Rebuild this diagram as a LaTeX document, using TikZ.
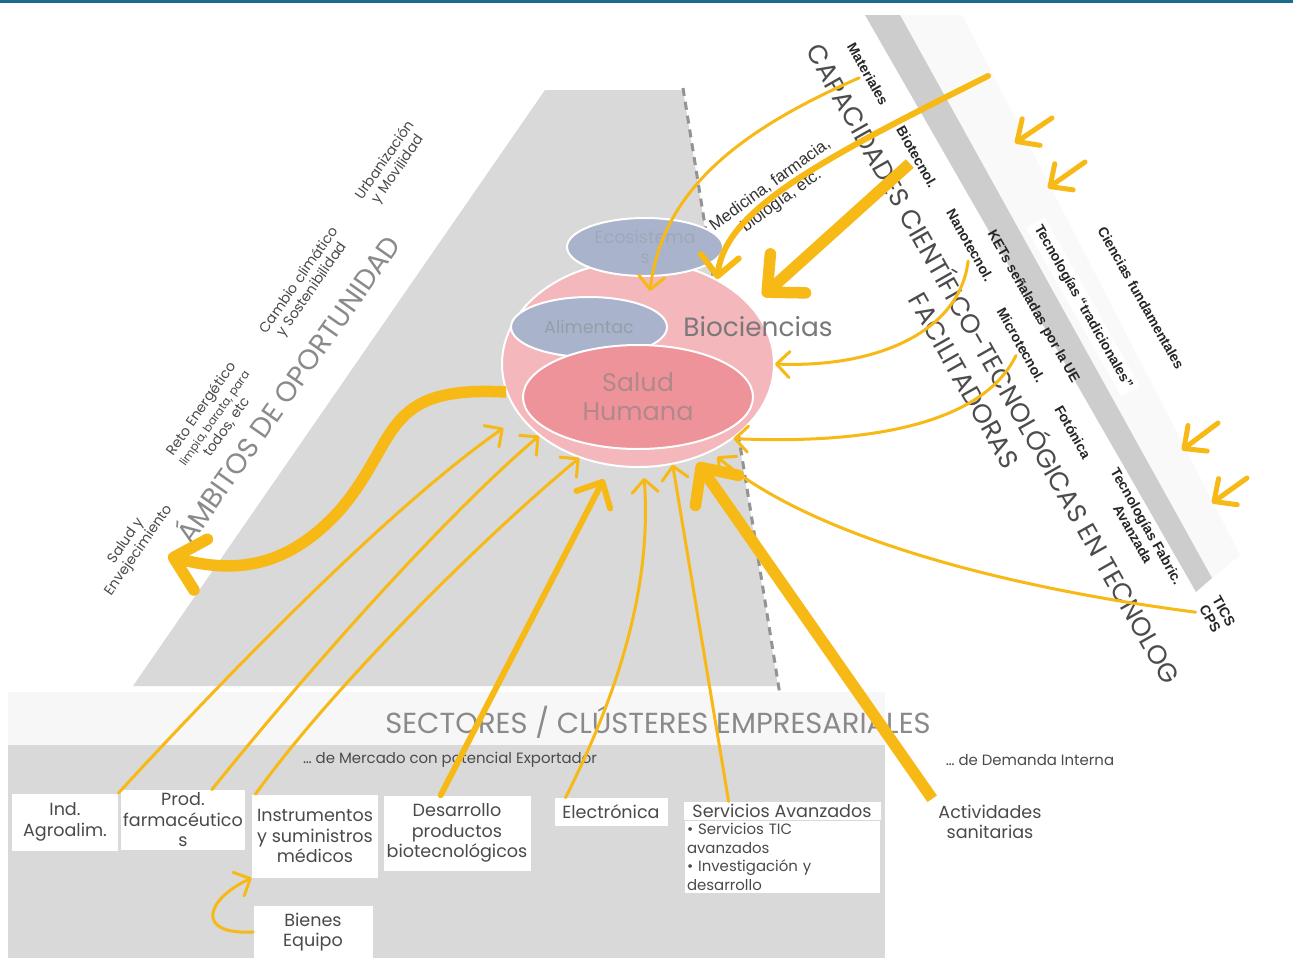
\documentclass[tikz,border=0pt]{standalone}
\usepackage{fontspec}
\setmainfont{Poppins}
\newfontfamily\ketfont{Liberation Sans}
\usetikzlibrary{arrows.meta,shapes.geometric,positioning,calc}
\definecolor{oro}{HTML}{F6B915}
\definecolor{rosa}{HTML}{F4B7BB}
\definecolor{salmon}{HTML}{EE9399}
\definecolor{lila}{HTML}{A9B4CC}
\definecolor{fondo}{HTML}{D9D9D9}
\definecolor{banda}{HTML}{CDCDCD}
\definecolor{raya}{HTML}{1B6A90}
\definecolor{texto}{HTML}{4A4A4A}
\definecolor{titulo}{HTML}{8A8A8A}
\begin{document}
\begin{tikzpicture}[x=0.2mm,y=-0.2mm,
    fino/.style={draw=oro,line width=0.6mm,line cap=round,-{Straight Barb[length=2.6mm,width=5.2mm,round]}},
    medio/.style={draw=oro,line width=1.2mm,line cap=round,-{Straight Barb[length=4mm,width=7.6mm,round]}},
    grueso/.style={draw=oro,line width=2.3mm,-{Straight Barb[length=5.6mm,width=10.5mm,round]}},
    suelta/.style={draw=oro,line width=1mm,line cap=round,-{Straight Barb[length=3.4mm,width=6.4mm,round]}},
    sector/.style={fill=white,inner sep=0.5mm,align=center,text=texto,font=\fontsize{10}{11.7}\selectfont},
    ambito/.style={rotate=55,align=center,text=texto,font=\fontsize{8}{9}\selectfont},
    ket/.style={rotate=-60.5,fill=white,align=center,inner sep=0.8mm,text=black!85,font=\ketfont\bfseries\fontsize{8}{9}\selectfont},
    mancha/.style={ellipse,draw=white,line width=0.4mm,inner sep=0pt}]
  \useasboundingbox (0,0) rectangle (1293,958);
  \fill[white] (0,0) rectangle (1293,958);
  \fill[raya] (0,0) rectangle (1293,3);
  \fill[fondo] (545,90) -- (683,90) -- (778,686) -- (133,686) -- cycle;
  \draw[gray!85,line width=0.6mm,dash pattern=on 1.6mm off 1.2mm] (683,88) -- (780,695);
  \fill[gray!5] (900,15) -- (962,15) -- (1240,555) -- (1212,578) -- cycle;
  \fill[banda] (865,15) -- (900,15) -- (1212,578) -- (1196,592) -- cycle;
  \fill[gray!6] (8,692) rectangle (885,745);
  \fill[fondo] (8,745) rectangle (885,958);

  \node[mancha,fill=rosa,minimum width=54.4mm,minimum height=41.2mm] (bio) at (638,364) {};
  \node[mancha,fill=lila,minimum width=31.2mm,minimum height=11.6mm,align=center,text=lila!75!gray,font=\fontsize{10}{11}\selectfont] (eco) at (645,247) {Ecosistema\\s};
  \node[mancha,fill=lila,minimum width=31.2mm,minimum height=12mm,text=lila!55!gray,font=\fontsize{10}{11}\selectfont] (alim) at (589,327) {Alimentac};
  \node[mancha,fill=salmon,minimum width=46mm,minimum height=20.8mm,align=center,text=salmon!45!gray,font=\fontsize{14.5}{16.5}\selectfont] (salud) at (638,397) {Salud\\Humana};
  \node at (758,327) [text=gray!95!black,font=\fontsize{15}{17}\selectfont] (bioc) {Biociencias};
  \node at (776,193) [rotate=36,align=center,text=black!80,font=\ketfont\fontsize{9.5}{11}\selectfont] (med) {Medicina, farmacia,\\biología, etc.};

  \node[ambito] (env) at (133,546) {Salud y\\Envejecimiento};
  \node[ambito] (reto) at (214,418) {Reto Energético\\\fontsize{6.5}{7.5}\selectfont limpia, barata, para\\todos, etc};
  \node[ambito] (camb) at (306,285) {Cambio climático\\y Sostenibilidad};
  \node[ambito] (urb) at (392,165) {Urbanización\\y Movilidad};
  \node at (286,388) [rotate=55,text=titulo,font=\fontsize{16}{18}\selectfont] (amb) {ÁMBITOS DE OPORTUNIDAD};

  \node[ket] (mat) at (868,74) {Materiales};
  \node[ket] (biot) at (917,157) {Biotecnol.};
  \node[ket] (nano) at (970,245) {Nanotecnol.};
  \node[ket] (micro) at (1021,345) {Microtecnol.};
  \node[ket] (foto) at (1073,432) {Fotónica};
  \node[ket] (fabr) at (1140,530) {Tecnologías Fabric.\\Avanzada};
  \node[ket] (tics) at (1217,615) {TICS\\CPS};
  \node[ket,fill=none] (kets) at (1033,307) {KETs señaladas por la UE};
  \node[ket] (trad) at (1083,307) {Tecnologías “tradicionales”};
  \node[ket] (cien) at (1141,298) {Ciencias fundamentales};
  \node at (981,371) [rotate=-60.5,align=center,text=black!70,font=\fontsize{15}{19}\selectfont] (cap) {CAPACIDADES CIENTÍFICO-TECNOLÓGICAS EN TECNOLOG\\FACILITADORAS};

  \node at (658,722) [text=titulo,font=\fontsize{16.5}{18}\selectfont] (sect) {SECTORES / CLÚSTERES EMPRESARIALES};
  \node at (450,760) [text=texto,font=\fontsize{8.5}{10}\selectfont] (merc) {… de Mercado con potencial Exportador};
  \node at (1030,760) [text=texto,font=\fontsize{8.5}{10}\selectfont] (dem) {… de Demanda Interna};
  \node[sector,minimum width=21.2mm,minimum height=11.4mm] (ind) at (65,822) {Ind.\\Agroalim.};
  \node[sector,minimum width=24.6mm,minimum height=12mm] (prod) at (183,820) {Prod.\\farmacéutico\\s};
  \node[sector,minimum width=25.2mm,minimum height=16.6mm] (instr) at (315,836) {Instrumentos\\y suministros\\médicos};
  \node[sector,minimum width=29.4mm,minimum height=15mm] (desa) at (457,833) {Desarrollo\\productos\\biotecnológicos};
  \node[sector,minimum width=22.6mm,minimum height=5.6mm] (elec) at (611,812) {Electrónica};
  \node[sector,minimum width=39.4mm] (servh) at (782,811) {Servicios Avanzados};
  \node[sector,below=0pt of servh,text width=38mm,align=left,font=\fontsize{8.5}{10.5}\selectfont] (servl) {\textbullet\ Servicios TIC\\avanzados\\\textbullet\ Investigación y\\desarrollo};
  \node[sector,minimum width=23.8mm,minimum height=10.6mm] (bien) at (313,932) {Bienes\\Equipo};
  \node at (990,822) [align=center,text=texto,font=\fontsize{10}{11.7}\selectfont] (act) {Actividades\\sanitarias};

  \coordinate (medsrc) at (988,76);
  \coordinate (envtip) at (168,556);
  \coordinate (ch1) at (1052,118); \coordinate (ch1t) at (1015,143);
  \coordinate (ch2) at (1085,162); \coordinate (ch2t) at (1048,188);
  \coordinate (ch3) at (1218,423); \coordinate (ch3t) at (1182,450);
  \coordinate (ch4) at (1247,478); \coordinate (ch4t) at (1212,503);

  \draw[fino] (mat) .. controls (740,130) and (662,190) .. ($(eco.south)+(5,14)$);
  \draw[medio] (medsrc) .. controls (820,160) and (725,210) .. (bio.47);
  \draw[grueso,shorten >=3mm] (biot) -- (bio.27);
  \draw[fino] (nano) .. controls (960,330) and (880,368) .. (bio.east);
  \draw[fino] (micro) .. controls (985,420) and (880,445) .. (bio.-38);
  \draw[fino,shorten >=1.5mm] (tics) .. controls (950,580) and (790,520) .. (bio.-50);
  \draw[grueso,shorten >=1mm] (act.north west) -- (bio.-59);
  \draw[fino] ($(servh.north west)!0.23!(servh.north east)$) -- (bio.-71);
  \draw[fino,shorten >=2mm] ($(elec.north west)!0.1!(elec.north east)$) .. controls (635,660) and (650,560) .. (bio.-87);
  \draw[medio,shorten >=3mm] ($(desa.north west)!0.39!(desa.north east)$) -- (bio.-105);
  \draw[fino] ($(instr.north west)!0.03!(instr.north east)$) .. controls (330,690) and (480,540) .. (bio.238);
  \draw[fino] ($(prod.north west)!0.73!(prod.north east)$) .. controls (300,680) and (440,520) .. (bio.216);
  \draw[fino,shorten >=4mm] (ind.north east) .. controls (250,650) and (400,500) .. (bio.204);
  \draw[grueso] (bio.192) .. controls (380,385) and (400,440) .. (340,510) .. controls (290,565) and (240,575) .. (envtip);
  \draw[fino] (bien.west) .. controls (195,935) and (205,900) .. (instr.south west);
  \draw[suelta] (ch1) -- (ch1t);
  \draw[suelta] (ch2) -- (ch2t);
  \draw[suelta] (ch3) -- (ch3t);
  \draw[suelta] (ch4) -- (ch4t);
\end{tikzpicture}
\end{document}
